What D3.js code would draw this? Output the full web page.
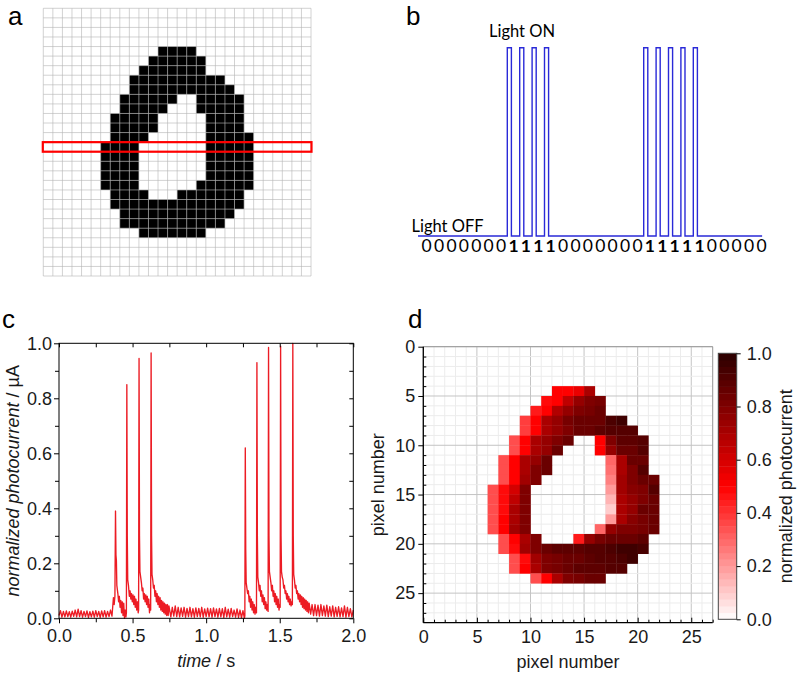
<!DOCTYPE html>
<html><head><meta charset="utf-8">
<script src="https://cdn.jsdelivr.net/npm/d3@7"></script>
<style>body{margin:0;background:#fff} svg{display:block}</style>
</head><body>
<svg id="fig" width="798" height="677"></svg>
<script>
// ---------------- DATA ----------------
// Panel d / a : handwritten "0", 28x28 pixels, normalized photocurrent per pixel
const heatRowIndex = [4,5,6,7,8,9,10,11,12,13,14,15,16,17,18,19,20,21,22,23];
const heatRowStart = [12,11,10,9,9,8,8,7,7,7,6,6,6,6,6,7,7,8,8,10];
const heatRowValues = [
  [0.5,0.5,0.55,0.7],
  [0.48,0.5,0.65,0.75,0.8,0.82],
  [0.45,0.5,0.68,0.75,0.8,0.82,0.85],
  [0.38,0.5,0.7,0.75,0.82,0.85,0.85,0.85,0.92,0.95],
  [0.38,0.5,0.7,0.75,0.8,0.85,0.85,0.88,0.9,0.9,0.9],
  [0.35,0.5,0.7,0.75,0.8,0.85,0,0,0.5,0.8,0.88,0.88,0.9],
  [0.35,0.5,0.7,0.75,0.85,0,0,0,0.5,0.75,0.85,0.85,0.9],
  [0.35,0.5,0.7,0.75,0.85,0,0,0,0,0,0.3,0.7,0.85,0.85],
  [0.35,0.5,0.7,0.8,0.85,0,0,0,0,0,0.28,0.7,0.8,0.9],
  [0.35,0.5,0.72,0.8,0,0,0,0,0,0,0.25,0.72,0.8,0.85,0.85],
  [0.35,0.48,0.6,0.8,0,0,0,0,0,0,0,0.2,0.72,0.78,0.8,0.9],
  [0.35,0.48,0.65,0.8,0,0,0,0,0,0,0,0.15,0.7,0.75,0.8,0.85],
  [0.35,0.48,0.7,0.8,0,0,0,0,0,0,0,0.1,0.7,0.75,0.85,0.85],
  [0.35,0.5,0.7,0.8,0,0,0,0,0,0,0,0.2,0.7,0.78,0.82,0.85],
  [0.35,0.5,0.72,0.8,0,0,0,0,0,0,0.3,0.75,0.8,0.8,0.82,0.85],
  [0.35,0.5,0.7,0.8,0,0,0,0.45,0.75,0.82,0.85,0.85,0.85,0.88],
  [0.35,0.48,0.72,0.8,0.85,0.88,0.88,0.88,0.9,0.9,0.92,0.95,0.95,0.93],
  [0.35,0.48,0.72,0.8,0.82,0.85,0.85,0.88,0.9,0.9,0.92,0.95],
  [0.35,0.5,0.7,0.8,0.82,0.85,0.88,0.88,0.88,0.9,0.9],
  [0.35,0.5,0.7,0.8,0.82,0.85,0.85]
];
const gridSize = 28;
const highlightRow = 14;

// Panel b : binary coding of the scanned row
const bitRow = [0,0,0,0,0,0,0,1,1,1,1,0,0,0,0,0,0,0,1,1,1,1,1,0,0,0,0,0];

// Panel c : photocurrent trace [time (s), normalized photocurrent]
const photocurrentTrace = [
[0,0.01],[0.01,0.028],[0.02,0.004],[0.03,0.025],[0.04,0.005],[0.05,0.027],[0.06,0.006],[0.07,0.024],[0.08,0.004],[0.09,0.026],
[0.10,0.007],[0.11,0.03],[0.12,0.005],[0.13,0.033],[0.14,0.006],[0.15,0.028],[0.16,0.004],[0.17,0.025],[0.18,0.006],[0.19,0.027],
[0.20,0.003],[0.21,0.024],[0.22,0.005],[0.23,0.026],[0.24,0.004],[0.25,0.028],[0.26,0.006],[0.27,0.025],[0.28,0.003],[0.29,0.027],
[0.30,0.005],[0.31,0.028],[0.32,0.004],[0.33,0.025],[0.34,0.006],[0.35,0.03],[0.36,0.008],
[0.37,0.075],[0.375,0.05],[0.38,0.08],[0.384,0.39],[0.387,0.23],[0.39,0.21],[0.393,0.12],[0.40,0.09],[0.405,0.06],[0.41,0.08],
[0.415,0.04],[0.42,0.065],[0.425,0.02],[0.43,0.06],[0.435,0.01],[0.44,0.055],[0.445,0.0],[0.45,0.03],[0.455,0.005],
[0.458,0.02],[0.461,0.85],[0.464,0.3],[0.467,0.14],[0.472,0.12],[0.478,0.08],[0.483,0.1],[0.488,0.07],[0.493,0.09],[0.498,0.06],
[0.503,0.085],[0.508,0.05],[0.513,0.08],[0.518,0.04],[0.523,0.07],[0.528,0.03],[0.533,0.06],[0.538,0.02],
[0.541,0.03],[0.544,0.945],[0.547,0.3],[0.55,0.17],[0.555,0.15],[0.56,0.13],[0.565,0.1],[0.57,0.11],[0.575,0.07],[0.58,0.09],
[0.585,0.06],[0.59,0.085],[0.595,0.05],[0.60,0.08],[0.605,0.04],[0.61,0.07],[0.615,0.02],[0.62,0.05],
[0.623,0.03],[0.626,0.965],[0.629,0.3],[0.632,0.16],[0.637,0.14],[0.642,0.11],[0.647,0.12],[0.652,0.08],[0.657,0.1],[0.662,0.06],
[0.667,0.09],[0.672,0.05],[0.677,0.08],[0.682,0.04],[0.687,0.075],[0.692,0.03],[0.697,0.065],[0.702,0.025],[0.707,0.06],[0.712,0.02],
[0.717,0.055],[0.722,0.015],[0.727,0.05],[0.732,0.01],[0.737,0.05],[0.742,0.01],[0.747,0.045],
[0.76,0.005],[0.77,0.04],[0.78,0.008],[0.79,0.045],[0.80,0.006],[0.81,0.04],[0.82,0.005],[0.83,0.038],[0.84,0.007],[0.85,0.04],
[0.86,0.004],[0.87,0.036],[0.88,0.006],[0.89,0.04],[0.90,0.005],[0.91,0.035],[0.92,0.004],[0.93,0.038],[0.94,0.006],[0.95,0.036],
[0.96,0.005],[0.97,0.04],[0.98,0.004],[0.99,0.034],[1.00,0.006],[1.01,0.037],[1.02,0.005],[1.03,0.035],[1.04,0.004],[1.05,0.038],
[1.06,0.006],[1.07,0.034],[1.08,0.004],[1.09,0.036],[1.10,0.005],[1.11,0.035],[1.12,0.003],[1.13,0.04],[1.14,0.005],[1.15,0.033],
[1.16,0.004],[1.17,0.036],[1.18,0.006],[1.19,0.03],[1.20,0.004],[1.21,0.034],[1.22,0.003],[1.23,0.03],[1.24,0.002],[1.25,0.028],[1.26,0.0],
[1.263,0.01],[1.266,0.62],[1.269,0.25],[1.272,0.13],[1.277,0.11],[1.282,0.09],[1.287,0.1],[1.292,0.06],[1.297,0.08],[1.302,0.04],
[1.307,0.07],[1.312,0.03],[1.317,0.06],[1.322,0.02],[1.327,0.05],[1.332,0.015],[1.337,0.04],
[1.342,0.02],[1.345,0.93],[1.348,0.3],[1.351,0.15],[1.356,0.13],[1.361,0.1],[1.366,0.12],[1.371,0.08],[1.376,0.1],[1.381,0.06],
[1.386,0.085],[1.391,0.05],[1.396,0.075],[1.401,0.035],[1.406,0.06],[1.411,0.03],[1.416,0.05],[1.421,0.025],
[1.424,0.985],[1.427,0.3],[1.43,0.17],[1.435,0.15],[1.44,0.13],[1.445,0.1],[1.45,0.12],[1.455,0.08],[1.46,0.1],[1.465,0.06],
[1.47,0.09],[1.475,0.05],[1.48,0.08],[1.485,0.04],[1.49,0.07],[1.495,0.03],[1.50,0.05],
[1.503,0.04],[1.506,0.99],[1.509,0.3],[1.512,0.17],[1.517,0.15],[1.522,0.14],[1.527,0.11],[1.532,0.12],[1.537,0.09],[1.542,0.1],
[1.547,0.07],[1.552,0.09],[1.557,0.06],[1.562,0.08],[1.567,0.05],[1.572,0.07],[1.577,0.045],[1.582,0.06],
[1.586,0.05],[1.589,1.0],[1.592,0.3],[1.595,0.16],[1.60,0.14],[1.605,0.11],[1.61,0.12],[1.615,0.09],[1.62,0.1],[1.625,0.07],
[1.63,0.09],[1.635,0.06],[1.64,0.085],[1.645,0.05],[1.65,0.08],[1.655,0.04],[1.66,0.075],[1.665,0.035],[1.67,0.07],[1.675,0.03],
[1.68,0.065],[1.685,0.025],[1.69,0.06],[1.695,0.02],[1.70,0.055],[1.71,0.015],[1.72,0.05],[1.73,0.01],[1.74,0.05],[1.75,0.01],
[1.76,0.048],[1.77,0.008],[1.78,0.05],[1.79,0.01],[1.80,0.045],[1.81,0.008],[1.82,0.048],[1.83,0.006],[1.84,0.042],[1.85,0.008],
[1.86,0.045],[1.87,0.005],[1.88,0.04],[1.89,0.007],[1.90,0.042],[1.91,0.005],[1.92,0.038],[1.93,0.006],[1.94,0.045],[1.95,0.004],
[1.96,0.04],[1.97,0.006],[1.98,0.035],[1.99,0.005],[2.0,0.03]
];
const cXTicks = [0,0.5,1,1.5,2];
const cYTicks = [0,0.2,0.4,0.6,0.8,1.0];
const dTicks = [0,5,10,15,20,25];
const cbTicks = [0,0.2,0.4,0.6,0.8,1.0];

// ---------------- DRAW ----------------
const svg = d3.select("#fig");
const AR = "'Liberation Sans', Arial, sans-serif";
const CAL = "Lato, 'Open Sans', sans-serif";

// flatten pixel cells
const cells = [];
heatRowIndex.forEach((r, k) => {
  heatRowValues[k].forEach((v, j) => { if (v > 0) cells.push({row: r, col: heatRowStart[k] + j, v}); });
});

// panel labels
[["a",8,25],["b",406,25],["c",2,328],["d",408,328]].forEach(([t,x,y]) =>
  svg.append("text").attr("x",x).attr("y",y).text(t)
    .style("font-family",AR).style("font-size","26px").attr("fill","#000"));

// ---------- Panel a ----------
const xA = d3.scaleLinear([0,gridSize],[43.3,311]);
const yA = d3.scaleLinear([0,gridSize],[8.3,276]);
const gA = svg.append("g");
gA.selectAll("rect.px").data(cells).join("rect")
  .attr("x", d => xA(d.col)).attr("y", d => yA(d.row))
  .attr("width", xA(1)-xA(0)).attr("height", yA(1)-yA(0)).attr("fill","#000");
d3.range(gridSize+1).forEach(i => {
  gA.append("line").attr("x1",xA(i)).attr("x2",xA(i)).attr("y1",yA(0)).attr("y2",yA(gridSize))
    .attr("stroke","#b4b4b4").attr("stroke-opacity",0.6).attr("stroke-width",1);
  gA.append("line").attr("y1",yA(i)).attr("y2",yA(i)).attr("x1",xA(0)).attr("x2",xA(gridSize))
    .attr("stroke","#b4b4b4").attr("stroke-opacity",0.6).attr("stroke-width",1);
});
gA.append("rect").attr("x",xA(0)-0.5).attr("y",yA(highlightRow)).attr("width",xA(gridSize)-xA(0)+1)
  .attr("height",yA(highlightRow+1)-yA(highlightRow)).attr("fill","none").attr("stroke","#ff0000").attr("stroke-width",2.2);

// ---------- Panel b ----------
const xB = d3.scaleLinear([0,gridSize],[420.5,767.7]);
const yB = d3.scaleLinear([0,1],[236,47.7]);
let pts = [[xB(-0.2), yB(0)]];
bitRow.forEach((b,i) => {
  if (b) { pts.push([xB(i),yB(0)],[xB(i),yB(1)],[xB(i+0.33),yB(1)],[xB(i+0.33),yB(0)]); }
});
pts.push([xB(27.55), yB(0)]);
svg.append("path").attr("d", d3.line()(pts)).attr("fill","none").attr("stroke","#2a2ad8").attr("stroke-width",1.4);
svg.selectAll("text.bit").data(bitRow).join("text").attr("class","bit")
  .attr("x",(d,i)=>xB(i+0.5)).attr("y",252).attr("text-anchor","middle")
  .style("font-family",CAL).style("font-size","17.5px").style("font-weight",d=>d?"bold":"normal")
  .text(d=>d);
svg.append("text").attr("x",489).attr("y",37).text("Light ON").style("font-family",CAL).style("font-size","16.5px");
svg.append("text").attr("x",411.5).attr("y",232).text("Light OFF").style("font-family",CAL).style("font-size","16.5px");

// ---------- Panel c ----------
const xC = d3.scaleLinear([0,2],[59,353.3]);
const yC = d3.scaleLinear([0,1],[618.3,343.3]);
const gC = svg.append("g");
gC.append("path").datum(photocurrentTrace)
  .attr("d", d3.line().x(d=>xC(d[0])).y(d=>yC(d[1])))
  .attr("fill","none").attr("stroke","#ec1c24").attr("stroke-width",1.35).attr("stroke-linejoin","round");
const minorCX = d3.range(0.25,2,0.5);
const minorCY = d3.range(0.1,1,0.2);
function styleAxis(g){ g.select(".domain").remove(); g.selectAll("line").attr("stroke","#000"); g.selectAll("text").style("font-family",AR).style("font-size","18px").attr("fill","#1a1a1a"); }
gC.append("g").attr("transform",`translate(0,${yC(0)})`)
  .call(d3.axisBottom(xC).tickValues(cXTicks).tickFormat(d3.format(".1f")).tickSize(5).tickPadding(6)).call(styleAxis);
gC.append("g").attr("transform",`translate(0,${yC(0)})`)
  .call(d3.axisBottom(xC).tickValues(minorCX).tickFormat("").tickSize(4)).call(styleAxis);
gC.append("g").attr("transform",`translate(0,${yC(1)})`)
  .call(d3.axisTop(xC).tickValues(cXTicks.concat(minorCX)).tickFormat("").tickSize(-4)).call(styleAxis);
gC.append("g").attr("transform",`translate(${xC(0)},0)`)
  .call(d3.axisLeft(yC).tickValues(cYTicks).tickFormat(d3.format(".1f")).tickSize(5).tickPadding(2)).call(styleAxis);
gC.append("g").attr("transform",`translate(${xC(0)},0)`)
  .call(d3.axisLeft(yC).tickValues(minorCY).tickFormat("").tickSize(4)).call(styleAxis);
gC.append("g").attr("transform",`translate(${xC(2)},0)`)
  .call(d3.axisRight(yC).tickValues(cYTicks.concat(minorCY)).tickFormat("").tickSize(-4)).call(styleAxis);
gC.append("rect").attr("x",xC(0)).attr("y",yC(1)).attr("width",xC(2)-xC(0)).attr("height",yC(0)-yC(1))
  .attr("fill","none").attr("stroke","#000").attr("stroke-width",1);
const tx = gC.append("text").attr("x",(xC(0)+xC(2))/2).attr("y",667).attr("text-anchor","middle")
  .style("font-family",AR).style("font-size","18px").attr("fill","#1a1a1a");
tx.append("tspan").style("font-style","italic").text("time");
tx.append("tspan").text(" / s");
const ty = gC.append("text").attr("transform",`translate(19,${(yC(0)+yC(1))/2}) rotate(-90)`).attr("text-anchor","middle")
  .style("font-family",AR).style("font-size","18px").attr("fill","#1a1a1a");
ty.append("tspan").style("font-style","italic").text("normalized photocurrent");
ty.append("tspan").text(" / µA");

// ---------- Panel d ----------
const xD = d3.scaleLinear([0,27],[423.3,712.7]);
const yD = d3.scaleLinear([0,28],[346.7,622.7]);
const color = d3.scaleLinear([0,0.5,1],["#ffffff","#ff0000","#2a0000"]);
const gD = svg.append("g");
d3.range(0,28).forEach(i => {
  const major = i % 5 === 0;
  gD.append("line").attr("x1",xD(i)).attr("x2",xD(i)).attr("y1",yD(0)).attr("y2",yD(28))
    .attr("stroke", major ? "#c4c4c4" : "#ececec").attr("stroke-width",1);
});
d3.range(0,29).forEach(i => {
  const major = i % 5 === 0;
  gD.append("line").attr("y1",yD(i)).attr("y2",yD(i)).attr("x1",xD(0)).attr("x2",xD(27))
    .attr("stroke", major ? "#c4c4c4" : "#ececec").attr("stroke-width",1);
});
gD.selectAll("rect.cell").data(cells).join("rect").attr("class","cell")
  .attr("x",d=>xD(d.col)).attr("y",d=>yD(d.row))
  .attr("width",xD(1)-xD(0)+0.3).attr("height",yD(1)-yD(0)+0.3).attr("fill",d=>color(d.v));
// frame
gD.append("line").attr("x1",xD(0)).attr("x2",xD(27)).attr("y1",yD(0)).attr("y2",yD(0)).attr("stroke","#999");
gD.append("line").attr("x1",xD(27)).attr("x2",xD(27)).attr("y1",yD(0)).attr("y2",yD(28)).attr("stroke","#999");
const minorD = d3.range(0,28).filter(i=>i%5!==0);
gD.append("g").attr("transform",`translate(0,${yD(28)})`)
  .call(d3.axisBottom(xD).tickValues(dTicks).tickFormat(d3.format("d")).tickSizeOuter(0).tickSize(-5).tickPadding(8)).call(g=>{styleAxis(g);});
gD.append("g").attr("transform",`translate(0,${yD(28)})`)
  .call(d3.axisBottom(xD).tickValues(minorD).tickFormat("").tickSize(-3)).call(styleAxis);
gD.append("g").attr("transform",`translate(${xD(0)},0)`)
  .call(d3.axisLeft(yD).tickValues(dTicks).tickFormat(d3.format("d")).tickSize(5).tickPadding(3)).call(styleAxis);
gD.append("g").attr("transform",`translate(${xD(0)},0)`)
  .call(d3.axisLeft(yD).tickValues(minorD).tickFormat("").tickSize(-3)).call(styleAxis);
gD.append("line").attr("x1",xD(0)).attr("x2",xD(27)).attr("y1",yD(28)).attr("y2",yD(28)).attr("stroke","#000").attr("stroke-width",1.3);
gD.append("line").attr("x1",xD(0)).attr("x2",xD(0)).attr("y1",yD(0)).attr("y2",yD(28)).attr("stroke","#000").attr("stroke-width",1.3);
gD.append("text").attr("x",(xD(0)+xD(27))/2).attr("y",668).attr("text-anchor","middle")
  .style("font-family",AR).style("font-size","18px").attr("fill","#1a1a1a").text("pixel number");
gD.append("text").attr("transform",`translate(384,${(yD(0)+yD(28))/2}) rotate(-90)`).attr("text-anchor","middle")
  .style("font-family",AR).style("font-size","18px").attr("fill","#1a1a1a").text("pixel number");

// colorbar
const yCB = d3.scaleLinear([0,1],[619.3,353.3]);
const nBands = 40;
const bands = d3.range(nBands).map(i => i/nBands);
gD.selectAll("rect.cb").data(bands).join("rect").attr("class","cb")
  .attr("x",718.3).attr("width",18.4)
  .attr("y",d=>yCB(d+1/nBands)).attr("height",yCB(0)-yCB(1/nBands)+0.4)
  .attr("fill",d=>color(d+0.5/nBands));
gD.append("rect").attr("x",718.3).attr("y",yCB(1)).attr("width",18.4).attr("height",yCB(0)-yCB(1))
  .attr("fill","none").attr("stroke","#444").attr("stroke-width",1);
gD.append("g").attr("transform",`translate(736.7,0)`)
  .call(d3.axisRight(yCB).tickValues(cbTicks).tickFormat(d3.format(".1f")).tickSize(4).tickPadding(6)).call(styleAxis);
gD.append("text").attr("transform",`translate(792,${(yCB(0)+yCB(1))/2}) rotate(-90)`).attr("text-anchor","middle")
  .style("font-family",AR).style("font-size","18px").attr("fill","#1a1a1a").text("normalized photocurrent");
</script>
</body></html>
